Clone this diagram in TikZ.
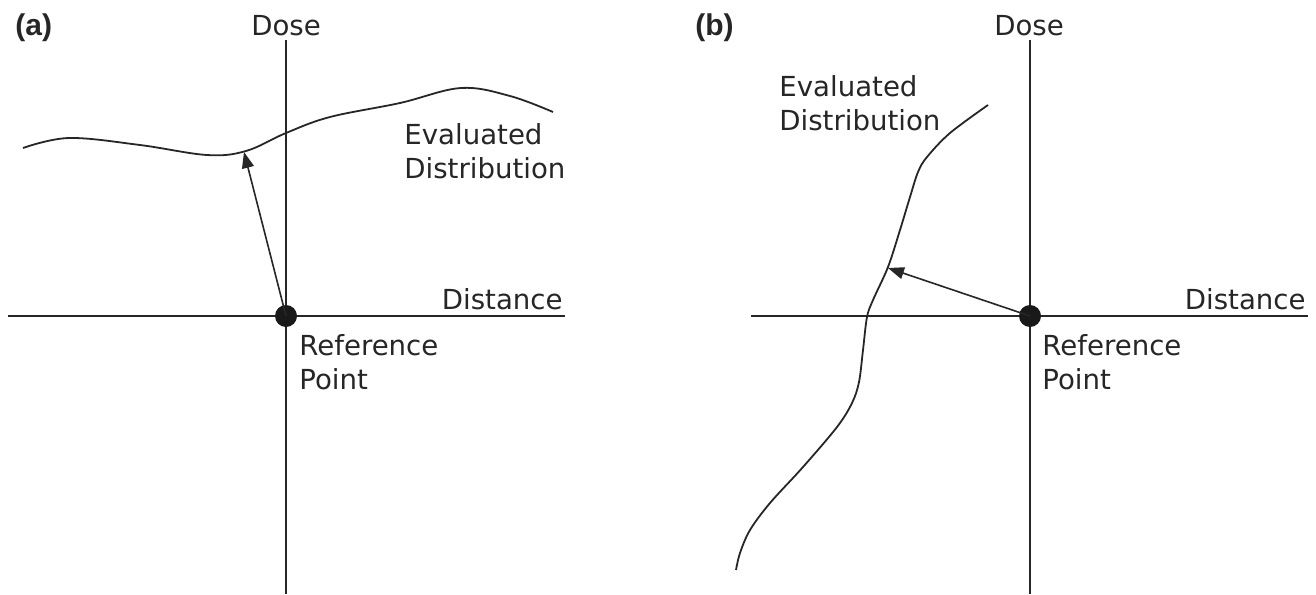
\documentclass[tikz,border=0pt]{standalone}
\usepackage{fontspec}
\setmainfont{DejaVu Sans}
\newfontfamily\panelfont{Liberation Sans}
\usetikzlibrary{arrows.meta}

\tikzset{
  axis/.style={line width=0.9pt, black!85},
  curve/.style={line width=0.9pt, black!85},
  refdot/.style={circle, fill=black!90, inner sep=0pt, minimum size=11pt},
  vec/.style={line width=0.8pt, black!85, -{Triangle[length=8pt,width=6pt]}},
  lbl/.style={inner sep=0pt, align=left, font=\fontsize{13.8}{17}\selectfont, text=black!85},
  panel/.style={inner sep=0pt, font=\panelfont\bfseries\fontsize{15}{18}\selectfont, text=black!85},
}

\begin{document}
\begin{tikzpicture}[x=0.5pt, y=-0.5pt]
    \useasboundingbox (0,0) rectangle (1316,594);

    % (a) punkt nahe an der Kurve
    \draw[axis] (286,40) -- (286,594);
    \draw[axis] (8,316) -- (565,316);
    \draw[curve] plot[smooth, tension=0.6] coordinates {(23,148) (69,138) (140,145) (207,155) (246,151) (286,133) (330,117) (400,103) (461,88) (510,96) (553,112)};
    \node[refdot] (refA) at (286,316) {};
    \coordinate (hitA) at (244,152);
    \draw[vec] (refA.center) -- (hitA);
    \node[panel, anchor=base west] (tagA) at (15,35) {(a)};
    \node[lbl, anchor=base] (doseA) at (286,35) {Dose};
    \node[lbl, anchor=base east] (distA) at (563,309) {Distance};
    \node[lbl, anchor=north west] (evalA) at (404,123) {Evaluated\\Distribution};
    \node[lbl, anchor=north west] (pointA) at (299,334) {Reference\\Point};

    % (b) Kurve steil, Vektor nach links
    \draw[axis] (1030,40) -- (1030,594);
    \draw[axis] (751,316) -- (1308,316);
    \draw[curve] plot[smooth, tension=0.55] coordinates {(988,105) (950,133) (927,157) (918,172) (910,197) (900,230) (888,267) (873,300) (867,317) (863,350) (859,382) (852,403) (837,427) (803,467) (770,503) (750,530) (740,553) (736,570)};
    \node[refdot] (refB) at (1030,316) {};
    \coordinate (hitB) at (888,268);
    \draw[vec] (refB.center) -- (hitB);
    \node[panel, anchor=base west] (tagB) at (695,35) {(b)};
    \node[lbl, anchor=base] (doseB) at (1029,35) {Dose};
    \node[lbl, anchor=base east] (distB) at (1306,309) {Distance};
    \node[lbl, anchor=north west] (evalB) at (779,75) {Evaluated\\Distribution};
    \node[lbl, anchor=north west] (pointB) at (1042,334) {Reference\\Point};
\end{tikzpicture}
\end{document}
